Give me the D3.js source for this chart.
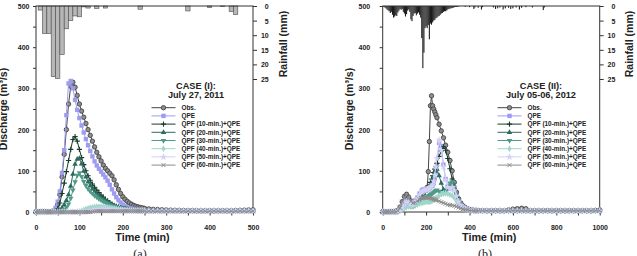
<!DOCTYPE html>
<html>
<head>
<meta charset="utf-8">
<script src="https://cdn.jsdelivr.net/npm/d3@7"></script>
<style>
  body { margin: 0; background: #fff; }
  svg { display: block; }
  text { font-family: "Liberation Sans", Arial, sans-serif; font-weight: bold; fill: #222; }
</style>
</head>
<body>
<svg id="chart" width="637" height="256"></svg>
<script>
// ---------- data ----------
const seriesNames = ['Obs.', 'QPE', 'QPF (10-min.)+QPE', 'QPF (20-min.)+QPE', 'QPF (30-min.)+QPE',
    'QPF (40-min.)+QPE', 'QPF (50-min.)+QPE', 'QPF (60-min.)+QPE'];

// case (I): 5-min steps to 245, then 10-min steps
const timesA = d3.range(0, 250, 5).concat(d3.range(250, 501, 10));
const obsA = [1,1,1,1,1,1,1,1, 2,6,18,42,85,140,200,262,305,315, 303,283,262,245,230,215,200,186,172,158,
    145,134,124,114,106,100,94,88,78,66, 55,45,37,31,26,22,19,16,14,12.5, 11,10,
    9,7.5,6.5,6,5.5,5,4.5,4,4,3.5, 3.5,3.5,3,3,3,3,3,3,3,3, 3,3.5,4,4.5,5,5.5];
const qpeA = [0,0,0,0,0,0,0,0, 3,10,25,50,95,150,235,312,318,300, 272,248,228,210,193,177,162,148,135,123,
    113,105,98,91,84,76,66,55,45,36, 29,23,18,14,11.5,9.5,8,7,6,5.5, 5,4.5,
    4,3.5,3,3,3,3,3,3,3,3, 3,3,3,3,3,3,3,3,3,3, 3,3,3,3,3,3];
const qpf10A = [0,0,0,0,0,0,0,0, 0.5,3,8,22,45,70,98,125,152,176, 183,172,152,132,115,100,88,77,68,60,
    53,47,41,36,31,27,23,19,16,14, 12,10,8.5,7.5,6.5,6,5.5,5,4.5,4, 4,3.5,
    3,3,3,3,3,3,3,3,3,3, 3,3,3,3,3,3,3,3,3,3, 3,3,3,3,3,3];
const qpf20A = [0,0,0,0,0,0,0,0, 0,0.5,2,5,10,18,28,42,63,92, 116,128,130,117,99,85,73,64,56,49,
    43,38,34,30,27,24,21,18,15,13, 11,9.5,8,7,6,5.5,5,4.5,4,4, 3.5,3.5,
    3,3,3,3,3,3,3,3,3,3, 3,3,3,3,3,3,3,3,3,3, 3,3,3,3,3,3];
const qpf30A = [0,0,0,0,0,0,0,0, 0,0,0.5,1,3,6,11,19,33,53, 73,89,95,86,74,64,56,50,45,40,
    36,32,29,26,23,20,17.5,15,13,11, 9.5,8,7,6,5.5,5,4.5,4,4,3.5, 3.5,3,
    3,3,3,3,3,3,3,3,3,3, 3,3,3,3,3,3,3,3,3,3, 3,3,3,3,3,3];
const qpf40A = [0,0,0,0,0,0,0,0, 0,0,0,0,0,0,0,0,0,0, 0,0.5,1,3,5,7,9,10.5,11.5,12.5,
    13,13,13,12.5,12,11.5,11,10,9,8, 7,6.5,6,5.5,5,4.5,4,4,3.5,3.5, 3,3,
    3,3,3,3,3,3,3,3,3,3, 3,3,3,3,3,3,3,3,3,3, 3,3,3,3,3,3];
const qpf50A = [0,0,0,0,0,0,0,0, 0,0,0,0,0,0,0,0,0,0, 0,0,0,0,0,0,1,2,3,4,
    5,5.5,6,6,6,6,5.5,5,5,4.5, 4,4,3.5,3,3,3,3,3,3,3, 3,3,
    2.5,2.5,2.5,2.5,2.5,2.5,2.5,2.5,2.5,2.5, 2.5,2.5,2.5,2.5,2.5,2.5,2.5,2.5,2.5,2.5, 2.5,2.5,2.5,2.5,2.5,2.5];
const qpf60A = [0,0,0,0,0,0,0,0, 0,0,0,0,0,0,0,0,0,0, 0,0,0,0,0,0,0,0,1,1.5,
    2,2,2,2,2,2,2,2,2,2, 2,2,2,2,2,2,2,2,2,2, 2,2,
    2,2,2,2,2,2,2,2,2,2, 2,2,2,2,2,2,2,2,2,2, 2,2,2,2,2,2];
const rainTimesA = [10,20,30,40,50,60,70,80,90,100,110,120,140,160,240,350,400,430,450,460];
const rainA = [1.4,9.4,9.4,24.2,24.8,16.6,7.8,5.0,3.4,3.7,0.3,0.7,0.8,0.7,1.1,1.7,0.5,0.2,1.9,2.9];

// case (II): 10-min steps, 5-min around the peak, 20-min in the tail
const timesB = d3.range(0, 180, 10).concat(d3.range(180, 250, 5), d3.range(250, 440, 10), d3.range(440, 1001, 20));
const obsB = [1,1,1,1,1,1,2,4,12,25, 38,43,36,27,23,25,30,36,
    42,46,50,52,55,60,98,171,258,282,258,250,243,236,
    229,213,197,180,162,145,125,100,72,48, 32,22,15,11,8,6,5,4,4,
    3.5,3,3,3,3,3,3,5,7,8, 9,8,3,3,3,3,3,3,3,3, 3,3,3,3,3,3,3,4,5];
const qpeB = [0,0,0,0,0,0,0,2,6,14, 22,28,25,20,22,28,35,45,
    52,54,55,55,56,57,58,60,62,63,65,70,80,95,
    115,168,160,115,80,62,58,62,55,40, 26,17,12,9,7,5,4,3.5,3,
    3,3,3,3,3,3,3,3,3,3, 3,3,3,3,3,3,3,3,3,3, 3,3,3,3,3,3,3,3,3];
const qpf10B = [0,0,0,0,0,0,0,2,6,12, 18,22,20,16,15,18,24,32,
    40,45,50,52,54,56,60,65,72,80,88,96,104,110,
    118,135,148,158,150,130,105,80,55,35, 22,15,11,8,6,5,4,3.5,3,
    3,3,3,3,3,3,3,3,3,3, 3,3,3,3,3,3,3,3,3,3, 3,3,3,3,3,3,3,3,3];
const qpf20B = [0,0,0,0,0,0,0,2,5,10, 15,18,17,15,15,18,24,30,
    36,40,45,50,52,54,56,58,62,70,80,90,100,106,
    104,88,70,55,50,55,65,72,60,40, 25,16,11,8,6,5,4,3.5,3,
    3,3,3,3,3,3,3,3,3,3, 3,3,3,3,3,3,3,3,3,3, 3,3,3,3,3,3,3,3,3];
const qpf30B = [0,0,0,0,0,0,0,1,4,8, 12,15,15,14,14,16,20,25,
    28,30,32,34,35,36,38,40,42,44,46,48,50,52,
    53,50,46,45,50,60,70,73,60,42, 26,16,11,8,6,5,4,3.5,3,
    3,3,3,3,3,3,3,3,3,3, 3,3,3,3,3,3,3,3,3,3, 3,3,3,3,3,3,3,3,3];
const qpf40B = [0,0,0,0,0,0,0,1,3,6, 9,12,13,13,14,16,18,20,
    22,23,24,24,25,25,25,25,26,27,28,30,32,34,
    36,40,43,45,45,44,42,40,34,26, 18,12,9,7,5,4,3.5,3,3,
    3,3,3,3,3,3,3,3,3,3, 3,3,3,3,3,3,3,3,3,3, 3,3,3,3,3,3,3,3,3];
const qpf50B = [0,0,0,0,0,0,0,2,5,12, 20,25,23,19,20,26,33,42,
    48,50,52,53,54,55,56,58,60,62,66,75,90,110,
    130,175,150,110,78,60,56,60,52,38, 25,16,11,8,6,5,4,3.5,3,
    3,3,3,3,3,3,3,3,3,3, 3,3,3,3,3,3,3,3,3,3, 3,3,3,3,3,3,3,3,3];
const qpf60B = [0,0,0,0,0,0,0,3,10,25, 36,40,34,26,22,23,27,31,
    33,34,35,35,35,35,35,34,34,33,32,31,30,29,
    28,26,24,22,20,18,17,16,15,13, 11,9,7,6,5,4,3.5,3,3,
    3,3,3,3,3,3,3,3,3,3, 3,3,3,3,3,3,3,3,3,3, 3,3,3,3,3,3,3,3,3];
const rainTimesB = d3.range(5, 355, 5).concat([380,400,420,425,440,455,460,510,520,530,540,555,565,580,590,600,615,630,640,660,690,740,745]);
const rainB = [0.3,0.5,0.8,1.2,1.5,1.8,2.4,2.0,3.0,4.0, 3.6,3.2,3.4,2.2,1.6,1.0,1.3,1.0,2.0,2.6,
    3.6,2.8,1.6,1.2,2.0,4.6,5.2,3.4,2.6,2.4, 3.2,2.6,2.2,3.0,4.0,11.0,21.3,16.0,7.6,7.0,
    7.6,6.5,11.4,6.0,6.4,5.6,5.0,4.8,4.2,4.0, 3.6,3.4,3.0,2.6,2.4,2.0,1.8,1.8,1.5,1.2,
    1.0,0.9,0.8,0.7,0.6,0.4,0.3,0.3,0.2,0.2,
    0.3,0.4,1.0,0.5,0.6,1.2,0.4,0.5,1.0,0.8,0.5,1.2,0.8,0.6,1.0,0.8,0.5,1.2,0.6,0.4,0.5,1.4,0.5];

const rainTicks = [0, 5, 10, 15, 20, 25];

// ---------- styles ----------
const seriesColors = ['#454545', '#9d9cf0', '#163d2e', '#2c6b5c', '#4f9a8a', '#9fd6ca', '#d4d1f6', '#8c8c8c'];
const seriesMarkers = ['circle', 'square', 'plus', 'triUp', 'triDown', 'diamond', 'star', 'cross'];

const svg = d3.select('#chart');

const panels = [
    {left: 36, right: 253, top: 6, bottom: 212, xMax: 500, xTickStep: 50, xLabelStep: 100,
     times: timesA, series: [obsA, qpeA, qpf10A, qpf20A, qpf30A, qpf40A, qpf50A, qpf60A],
     rainT: rainTimesA, rainV: rainA, rainStep: 10, rainFill: '#b7b7b7', rainStroke: '#4a4a4a',
     yLabelGap: 6.5, yTitleX: 7, caseTitle: 'CASE (I):', caseDate: 'July 27, 2011',
     legendX: 151.5, titleX: 196, tag: '(a)', tagX: 140},
    {left: 382.7, right: 599.7, top: 6, bottom: 212, xMax: 1000, xTickStep: 100, xLabelStep: 200,
     times: timesB, series: [obsB, qpeB, qpf10B, qpf20B, qpf30B, qpf40B, qpf50B, qpf60B],
     rainT: rainTimesB, rainV: rainB, rainStep: 5, rainFill: '#1c1c1c', rainStroke: 'none',
     yLabelGap: 12.5, yTitleX: 352.5, caseTitle: 'CASE (II):', caseDate: 'July 05-06, 2012',
     legendX: 497.5, titleX: 541, tag: '(b)', tagX: 485}
];

// draw one marker symbol into a group centred on 0,0
const addMarker = (sel, kind, color) => {
    if (kind === 'circle') {
        sel.append('circle').attr('r', 2.2).attr('fill', '#8f8f8f').attr('stroke', color).attr('stroke-width', 0.9);
    } else if (kind === 'square') {
        sel.append('rect').attr('x', -2.2).attr('y', -2.2).attr('width', 4.4).attr('height', 4.4).attr('fill', color);
    } else if (kind === 'plus') {
        sel.append('path').attr('d', 'M-2.6,0H2.6M0,-2.6V2.6').attr('stroke', color).attr('stroke-width', 1.1);
    } else if (kind === 'cross') {
        sel.append('path').attr('d', 'M-2,-2L2,2M-2,2L2,-2').attr('stroke', color).attr('stroke-width', 1);
    } else {
        const type = {triUp: d3.symbolTriangle, triDown: d3.symbolTriangle, diamond: d3.symbolDiamond, star: d3.symbolStar}[kind];
        sel.append('path').attr('d', d3.symbol(type, kind === 'star' ? 18 : 13)())
            .attr('transform', kind === 'triDown' ? 'rotate(180)' : null)
            .attr('fill', color);
    }
};

const drawPanel = (p) => {
    const x = d3.scaleLinear().domain([0, p.xMax]).range([p.left, p.right]);
    const y = d3.scaleLinear().domain([0, 500]).range([p.bottom, p.top]);
    const rain = d3.scaleLinear().domain([0, 25]).range([p.top, p.top + 73]);
    const g = svg.append('g');

    // rainfall bars hanging from the top edge
    const barW = x(p.rainStep) - x(0);
    g.append('g').selectAll('rect')
        .data(p.rainT.map((t, i) => ({t: t, v: p.rainV[i]})))
        .join('rect')
        .attr('x', (d) => x(d.t) - barW / 2)
        .attr('y', p.top)
        .attr('width', barW)
        .attr('height', (d) => rain(d.v) - p.top)
        .attr('fill', p.rainFill)
        .attr('stroke', p.rainStroke)
        .attr('stroke-width', 0.6);

    // x axis, ticks every step, labels on the larger step
    const xAxis = d3.axisBottom(x)
        .tickValues(d3.range(0, p.xMax + 1, p.xTickStep))
        .tickSize(3.5)
        .tickFormat((d) => d % p.xLabelStep === 0 ? d : '');
    const xg = g.append('g').attr('transform', 'translate(0,' + p.bottom + ')').call(xAxis);
    xg.select('.domain').remove();
    xg.selectAll('.tick line').attr('stroke', '#333');
    xg.selectAll('.tick text').attr('y', 18).attr('dy', 0).attr('font-size', 7).attr('font-family', null);

    // discharge axis
    const yAxis = d3.axisLeft(y)
        .tickValues(d3.range(0, 501, 50))
        .tickSize(3)
        .tickFormat((d) => d % 100 === 0 ? d : '');
    const yg = g.append('g').attr('transform', 'translate(' + p.left + ',0)').call(yAxis);
    yg.select('.domain').remove();
    yg.selectAll('.tick line').attr('stroke', '#333');
    yg.selectAll('.tick text').attr('x', -p.yLabelGap).attr('dy', 2.5).attr('font-size', 7).attr('font-family', null);

    // rainfall axis on the right
    const rAxis = d3.axisRight(rain).tickValues(rainTicks).tickSize(4);
    const rg = g.append('g').attr('transform', 'translate(' + p.right + ',0)').call(rAxis);
    rg.select('.domain').remove();
    rg.selectAll('.tick line').attr('stroke', '#333');
    rg.selectAll('.tick text').attr('x', 15.7).attr('dy', 2.5).attr('text-anchor', 'end')
        .attr('font-size', 7).attr('font-family', null);

    // frame
    g.append('rect').attr('x', p.left).attr('y', p.top)
        .attr('width', p.right - p.left).attr('height', p.bottom - p.top)
        .attr('fill', 'none').attr('stroke', '#333').attr('stroke-width', 1);

    // series lines and markers
    p.series.forEach((vals, si) => {
        const pts = p.times.map((t, i) => [x(t), y(vals[i])]);
        g.append('path').attr('d', d3.line()(pts))
            .attr('fill', 'none').attr('stroke', seriesColors[si]).attr('stroke-width', 1);
        const mg = g.append('g');
        pts.forEach((pt) => {
            const m = mg.append('g').attr('transform', 'translate(' + pt[0] + ',' + pt[1] + ')');
            addMarker(m, seriesMarkers[si], seriesColors[si]);
        });
    });

    // case title and legend
    g.append('text').attr('x', p.titleX).attr('y', 88.5).attr('text-anchor', 'middle')
        .attr('font-size', 9.2).text(p.caseTitle);
    g.append('text').attr('x', p.titleX).attr('y', 98.3).attr('text-anchor', 'middle')
        .attr('font-size', 9.2).text(p.caseDate);
    seriesNames.forEach((name, si) => {
        const ly = 107.7 + si * 8.2;
        const lg = g.append('g');
        lg.append('line').attr('x1', p.legendX).attr('x2', p.legendX + 24)
            .attr('y1', ly).attr('y2', ly).attr('stroke', seriesColors[si]).attr('stroke-width', 1);
        addMarker(lg.append('g').attr('transform', 'translate(' + (p.legendX + 12) + ',' + ly + ')'),
            seriesMarkers[si], seriesColors[si]);
        lg.append('text').attr('x', p.legendX + 30).attr('y', ly + 2.3)
            .attr('font-size', 6.4).text(name);
    });

    // axis titles
    g.append('text').attr('x', (p.left + p.right) / 2 - 2).attr('y', 241)
        .attr('text-anchor', 'middle').attr('font-size', 10.8).text('Time (min)');
    g.append('text').attr('transform', 'translate(' + p.yTitleX + ',109) rotate(-90)')
        .attr('text-anchor', 'middle').attr('font-size', 10.5).text('Discharge (m³/s)');
    g.append('text').attr('transform', 'translate(' + (p.right + 33.5) + ',44) rotate(-90)')
        .attr('text-anchor', 'middle').attr('font-size', 10.5).text('Rainfall (mm)');

    // panel tag
    g.append('text').attr('x', p.tagX).attr('y', 258).attr('text-anchor', 'middle')
        .style('font-family', '"Liberation Serif", "DejaVu Serif", serif').style('font-weight', 'normal')
        .attr('font-size', 12).attr('fill', '#333').text(p.tag);
};

panels.forEach(drawPanel);
</script>
</body>
</html>
